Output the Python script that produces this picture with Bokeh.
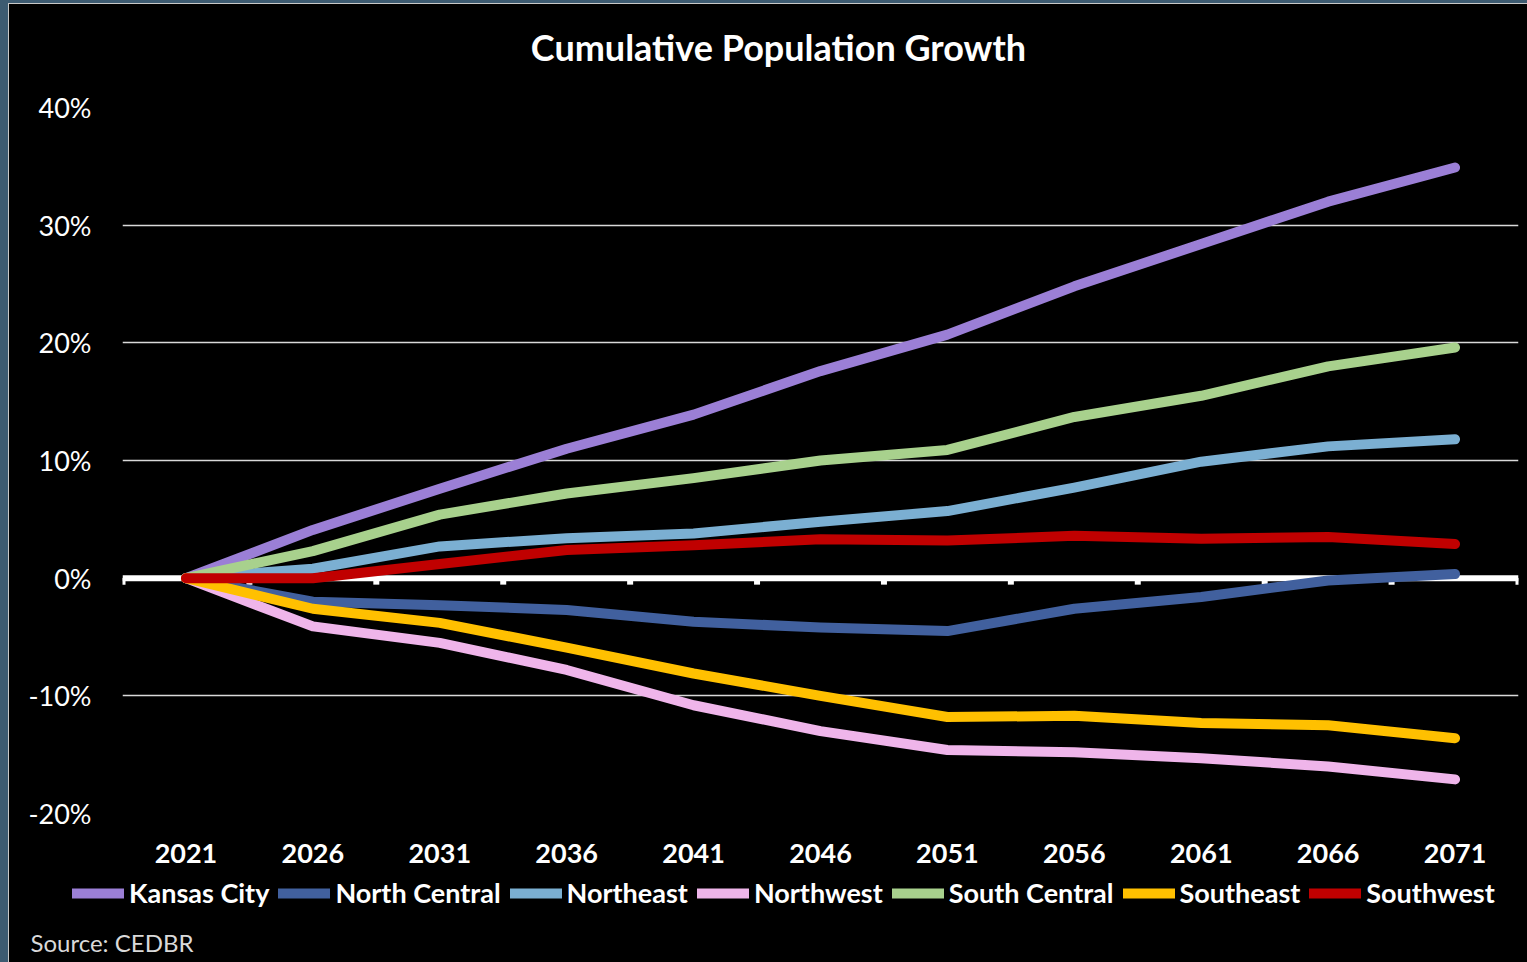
from bokeh.plotting import figure
from bokeh.models import (FactorRange, Range1d, FixedTicker, NumeralTickFormatter, Span,
                          Legend, LegendItem, Label, ColumnDataSource)
from bokeh.layouts import column
from bokeh.transform import dodge
from bokeh.embed import file_html
from bokeh.resources import INLINE

years = ["2021", "2026", "2031", "2036", "2041", "2046", "2051", "2056", "2061", "2066", "2071"]

kansas_city   = [0, 4.1, 7.6, 11.0, 13.9, 17.6, 20.7, 24.8, 28.4, 32.0, 34.9]
north_central = [0, -2.0, -2.3, -2.7, -3.7, -4.2, -4.5, -2.6, -1.6, -0.2, 0.35]
northeast     = [0, 0.8, 2.7, 3.4, 3.8, 4.8, 5.7, 7.7, 9.9, 11.2, 11.8]
northwest     = [0, -4.1, -5.5, -7.8, -10.8, -13.0, -14.6, -14.8, -15.3, -16.0, -17.1]
south_central = [0, 2.3, 5.4, 7.2, 8.5, 10.0, 10.9, 13.7, 15.5, 18.0, 19.6]
southeast     = [0, -2.6, -3.8, -5.9, -8.1, -10.0, -11.8, -11.7, -12.3, -12.5, -13.6]
southwest     = [0, 0.0, 1.2, 2.4, 2.8, 3.3, 3.2, 3.6, 3.35, 3.5, 2.9]

series_names = ["Kansas City", "North Central", "Northeast", "Northwest",
                "South Central", "Southeast", "Southwest"]
series_values = [kansas_city, north_central, northeast, northwest,
                 south_central, southeast, southwest]
series_colors = ["#9b7fd6", "#41609e", "#7bafd2", "#efb5ea", "#a8d18d", "#ffc000", "#c00000"]

y_ticks = [-0.2, -0.1, 0.0, 0.1, 0.2, 0.3, 0.4]

FONT = "Lato"
BLACK = {"background-color": "black"}


def no_frame_align(f):
    try:
        f.frame_align = False
    except Exception:
        pass


def blank_fig(height):
    f = figure(width=1518, height=height, x_range=Range1d(0, 1), y_range=Range1d(0, 1),
               x_axis_type=None, y_axis_type=None, output_backend="svg",
               toolbar_location=None, background_fill_color="black",
               border_fill_color="black", min_border=0, styles=BLACK)
    f.outline_line_color = None
    f.grid.visible = False
    no_frame_align(f)
    return f


# ---- header with the title ----
header = blank_fig(86)
header.add_layout(Label(x=769, y=44, x_units="screen", y_units="screen",
                        text="Cumulative Population Growth", text_color="white",
                        text_font=FONT, text_font_style="bold", text_font_size="36px",
                        text_align="center", text_baseline="alphabetic"))

# ---- main chart ----
p = figure(width=1518, height=782, x_range=FactorRange(factors=years),
           y_range=Range1d(-0.2, 0.4), output_backend="svg", toolbar_location=None,
           background_fill_color="black", border_fill_color="black",
           min_border_left=113, min_border_right=9, min_border_top=17, min_border_bottom=59,
           styles=BLACK)
p.outline_line_color = None
no_frame_align(p)

p.xaxis.axis_line_color = None
p.xaxis.major_tick_line_color = None
p.xaxis.minor_tick_line_color = None
p.xaxis.major_label_text_color = "white"
p.xaxis.major_label_text_font = FONT
p.xaxis.major_label_text_font_style = "bold"
p.xaxis.major_label_text_font_size = "27px"
p.xaxis.major_label_standoff = 24

p.yaxis.ticker = FixedTicker(ticks=y_ticks)
p.yaxis.formatter = NumeralTickFormatter(format="0%")
p.yaxis.axis_line_color = None
p.yaxis.major_tick_line_color = None
p.yaxis.minor_tick_line_color = None
p.yaxis.major_label_text_color = "white"
p.yaxis.major_label_text_font = FONT
p.yaxis.major_label_text_font_size = "27px"
p.yaxis.major_label_standoff = 25

p.xgrid.grid_line_color = None
p.ygrid.grid_line_color = "#d9d9d9"
p.ygrid.grid_line_width = 1.5

p.add_layout(Span(location=0, dimension="width", line_color="white", line_width=6,
                  level="underlay"))

# category boundary tick marks on the zero line
tick_src = ColumnDataSource(dict(x=years, y0=[0] * len(years), y1=[-0.0055] * len(years)))
p.segment(x0=dodge("x", -0.5, range=p.x_range), x1=dodge("x", -0.5, range=p.x_range),
          y0="y0", y1="y1", source=tick_src, line_color="white", line_width=6)
end_src = ColumnDataSource(dict(x=years[-1:], y0=[0], y1=[-0.0055]))
p.segment(x0=dodge("x", 0.5, range=p.x_range), x1=dodge("x", 0.5, range=p.x_range),
          y0="y0", y1="y1", source=end_src, line_color="white", line_width=6)

for vals, color in zip(series_values, series_colors):
    p.line(x=years, y=[v / 100 for v in vals], line_color=color, line_width=10,
           line_cap="round", line_join="round")

# ---- legend strip with the source note ----
foot = blank_fig(90)
items = []
for name, vals, color in zip(series_names, series_values, series_colors):
    # hidden copies of the series, used only to draw the legend swatches
    r = foot.line(x=list(range(len(years))), y=[v / 100 for v in vals], line_color=color,
                  line_width=10, line_cap="round", line_join="round", visible=False)
    items.append(LegendItem(label=name, renderers=[r]))
legend = Legend(items=items, orientation="horizontal", location=(63, 53),
                glyph_width=52, glyph_height=20, label_standoff=5, spacing=9,
                padding=0, margin=0, border_line_color=None, background_fill_alpha=0,
                inactive_fill_alpha=0,
                label_text_color="white", label_text_font=FONT,
                label_text_font_style="bold", label_text_font_size="27px")
foot.add_layout(legend)
foot.add_layout(Label(x=21, y=20, x_units="screen", y_units="screen", text="Source: CEDBR",
                      text_color="#d9d9d9", text_font=FONT, text_font_size="24px",
                      text_align="left", text_baseline="alphabetic"))

inner = column(header, p, foot, spacing=0,
               styles={"background-color": "#c8c8c8", "padding-left": "1px", "padding-top": "1px"})
outer = column(inner, styles={"background-color": "#3d5b71", "padding-left": "8px", "padding-top": "3px"})

open("out.html", "w").write(file_html(outer, INLINE))
